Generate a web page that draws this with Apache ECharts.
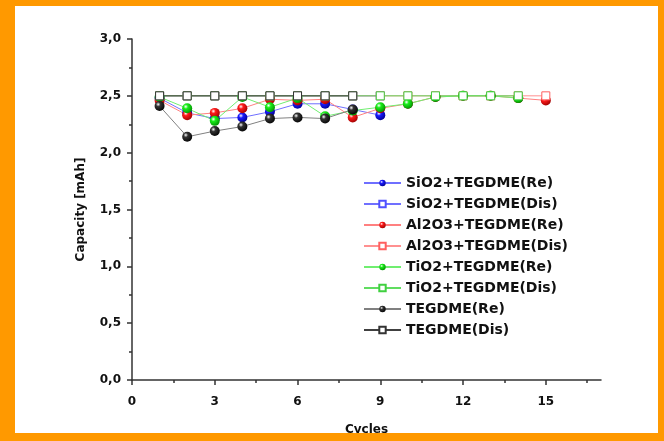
<!DOCTYPE html>
<html>
<head>
<meta charset="utf-8">
<script src="https://cdn.jsdelivr.net/npm/echarts@6/dist/echarts.min.js"></script>
<style>
body {
  margin: 0;
  background: #ff9900;
  width: 664px;
  height: 441px;
  overflow: hidden;
}
#chart {
  position: absolute;
  left: 15px;
  top: 6px;
  width: 643px;
  height: 427px;
  background: #fff;
}
</style>
</head>
<body>
<div id="chart"></div>
<script>
// cycles 1..15
var cycles = [1, 2, 3, 4, 5, 6, 7, 8, 9, 10, 11, 12, 13, 14, 15];

var sio2Re = [2.48, 2.35, 2.30, 2.31, 2.36, 2.43, 2.43, 2.38, 2.33];
var sio2Dis = [2.5, 2.5, 2.5, 2.5, 2.5, 2.5, 2.5, 2.5, 2.5];
var al2o3Re = [2.46, 2.33, 2.35, 2.39, 2.47, 2.46, 2.47, 2.31, 2.39, 2.43, 2.49, 2.5, 2.5, 2.48, 2.46];
var al2o3Dis = [2.5, 2.5, 2.5, 2.5, 2.5, 2.5, 2.5, 2.5, 2.5, 2.5, 2.5, 2.5, 2.5, 2.5, 2.5];
var tio2Re = [2.49, 2.39, 2.28, 2.49, 2.40, 2.48, 2.32, 2.37, 2.40, 2.43, 2.49, 2.5, 2.5, 2.48];
var tio2Dis = [2.5, 2.5, 2.5, 2.5, 2.5, 2.5, 2.5, 2.5, 2.5, 2.5, 2.5, 2.5, 2.5, 2.5];
var tegdmeRe = [2.41, 2.14, 2.19, 2.23, 2.30, 2.31, 2.30, 2.38];
var tegdmeDis = [2.5, 2.5, 2.5, 2.5, 2.5, 2.5, 2.5, 2.5];

var xTicks = [0, 3, 6, 9, 12, 15];

function pairs(values) {
  return values.map(function (v, i) {
    return [cycles[i], v];
  });
}

// shaded ball like the original plot
function ball(color, dark) {
  return {
    type: "radial",
    x: 0.36,
    y: 0.33,
    r: 0.75,
    colorStops: [
      { offset: 0, color: "#ffffff" },
      { offset: 0.3, color: color },
      { offset: 1, color: dark }
    ]
  };
}

function reSeries(name, values, color, dark, lineColor) {
  return {
    name: name,
    type: "line",
    data: pairs(values),
    symbol: "circle",
    symbolSize: 10,
    itemStyle: { color: ball(color, dark) },
    lineStyle: { color: lineColor, width: 1 },
    emphasis: { disabled: true }
  };
}

function disSeries(name, values, color, lineColor) {
  return {
    name: name,
    type: "line",
    data: pairs(values),
    symbol: "rect",
    symbolSize: 8,
    itemStyle: { color: "#fff", borderColor: color, borderWidth: 1 },
    lineStyle: { color: lineColor, width: 1 },
    emphasis: { disabled: true }
  };
}

var boldFont = {
  fontFamily: "DejaVu Sans",
  fontWeight: "bold",
  fontSize: 12,
  color: "#111"
};

var option = {
  animation: false,
  grid: {
    left: 117,
    top: 33,
    right: 57,
    bottom: 53,
    outerBoundsMode: "none"
  },
  xAxis: {
    type: "value",
    min: 0,
    max: 17,
    interval: 3,
    name: "Cycles",
    nameLocation: "middle",
    nameGap: 44,
    nameTextStyle: boldFont,
    axisLine: { lineStyle: { color: "#333", width: 1.5 } },
    axisTick: { customValues: xTicks, length: 5, lineStyle: { color: "#333", width: 1.5 } },
    minorTick: { show: true, splitNumber: 2, length: 3, lineStyle: { color: "#333", width: 1.5 } },
    axisLabel: Object.assign({ customValues: xTicks, margin: 16 }, boldFont),
    splitLine: { show: false }
  },
  yAxis: {
    type: "value",
    min: 0,
    max: 3,
    interval: 0.5,
    name: "Capacity [mAh]",
    nameLocation: "middle",
    nameGap: 45,
    nameTextStyle: boldFont,
    axisLine: { show: true, lineStyle: { color: "#333", width: 1.5 } },
    axisTick: { show: true, length: 5, lineStyle: { color: "#333", width: 1.5 } },
    minorTick: { show: true, splitNumber: 2, length: 3, lineStyle: { color: "#333", width: 1.5 } },
    axisLabel: Object.assign({
      margin: 11,
      formatter: function (v) {
        return v.toFixed(1).replace(".", ",");
      }
    }, boldFont),
    splitLine: { show: false }
  },
  legend: {
    orient: "vertical",
    left: 343,
    top: 165,
    itemWidth: 37,
    itemHeight: 8,
    itemGap: 7,
    textStyle: {
      fontFamily: "DejaVu Sans",
      fontWeight: "bold",
      fontSize: 14,
      color: "#111"
    }
  },
  series: [
    reSeries("SiO2+TEGDME(Re)", sio2Re, "#1a1aff", "#00008a", "#6f6fff"),
    disSeries("SiO2+TEGDME(Dis)", sio2Dis, "#5050ff", "#7070ff"),
    reSeries("Al2O3+TEGDME(Re)", al2o3Re, "#ff1a1a", "#990000", "#ff8080"),
    disSeries("Al2O3+TEGDME(Dis)", al2o3Dis, "#ff6060", "#ff9090"),
    reSeries("TiO2+TEGDME(Re)", tio2Re, "#1aee1a", "#008a00", "#70ee70"),
    disSeries("TiO2+TEGDME(Dis)", tio2Dis, "#40d040", "#60dd60"),
    reSeries("TEGDME(Re)", tegdmeRe, "#333333", "#000000", "#808080"),
    disSeries("TEGDME(Dis)", tegdmeDis, "#333333", "#404040")
  ]
};

var chart = echarts.init(document.getElementById("chart"));
chart.setOption(option);
</script>
</body>
</html>
